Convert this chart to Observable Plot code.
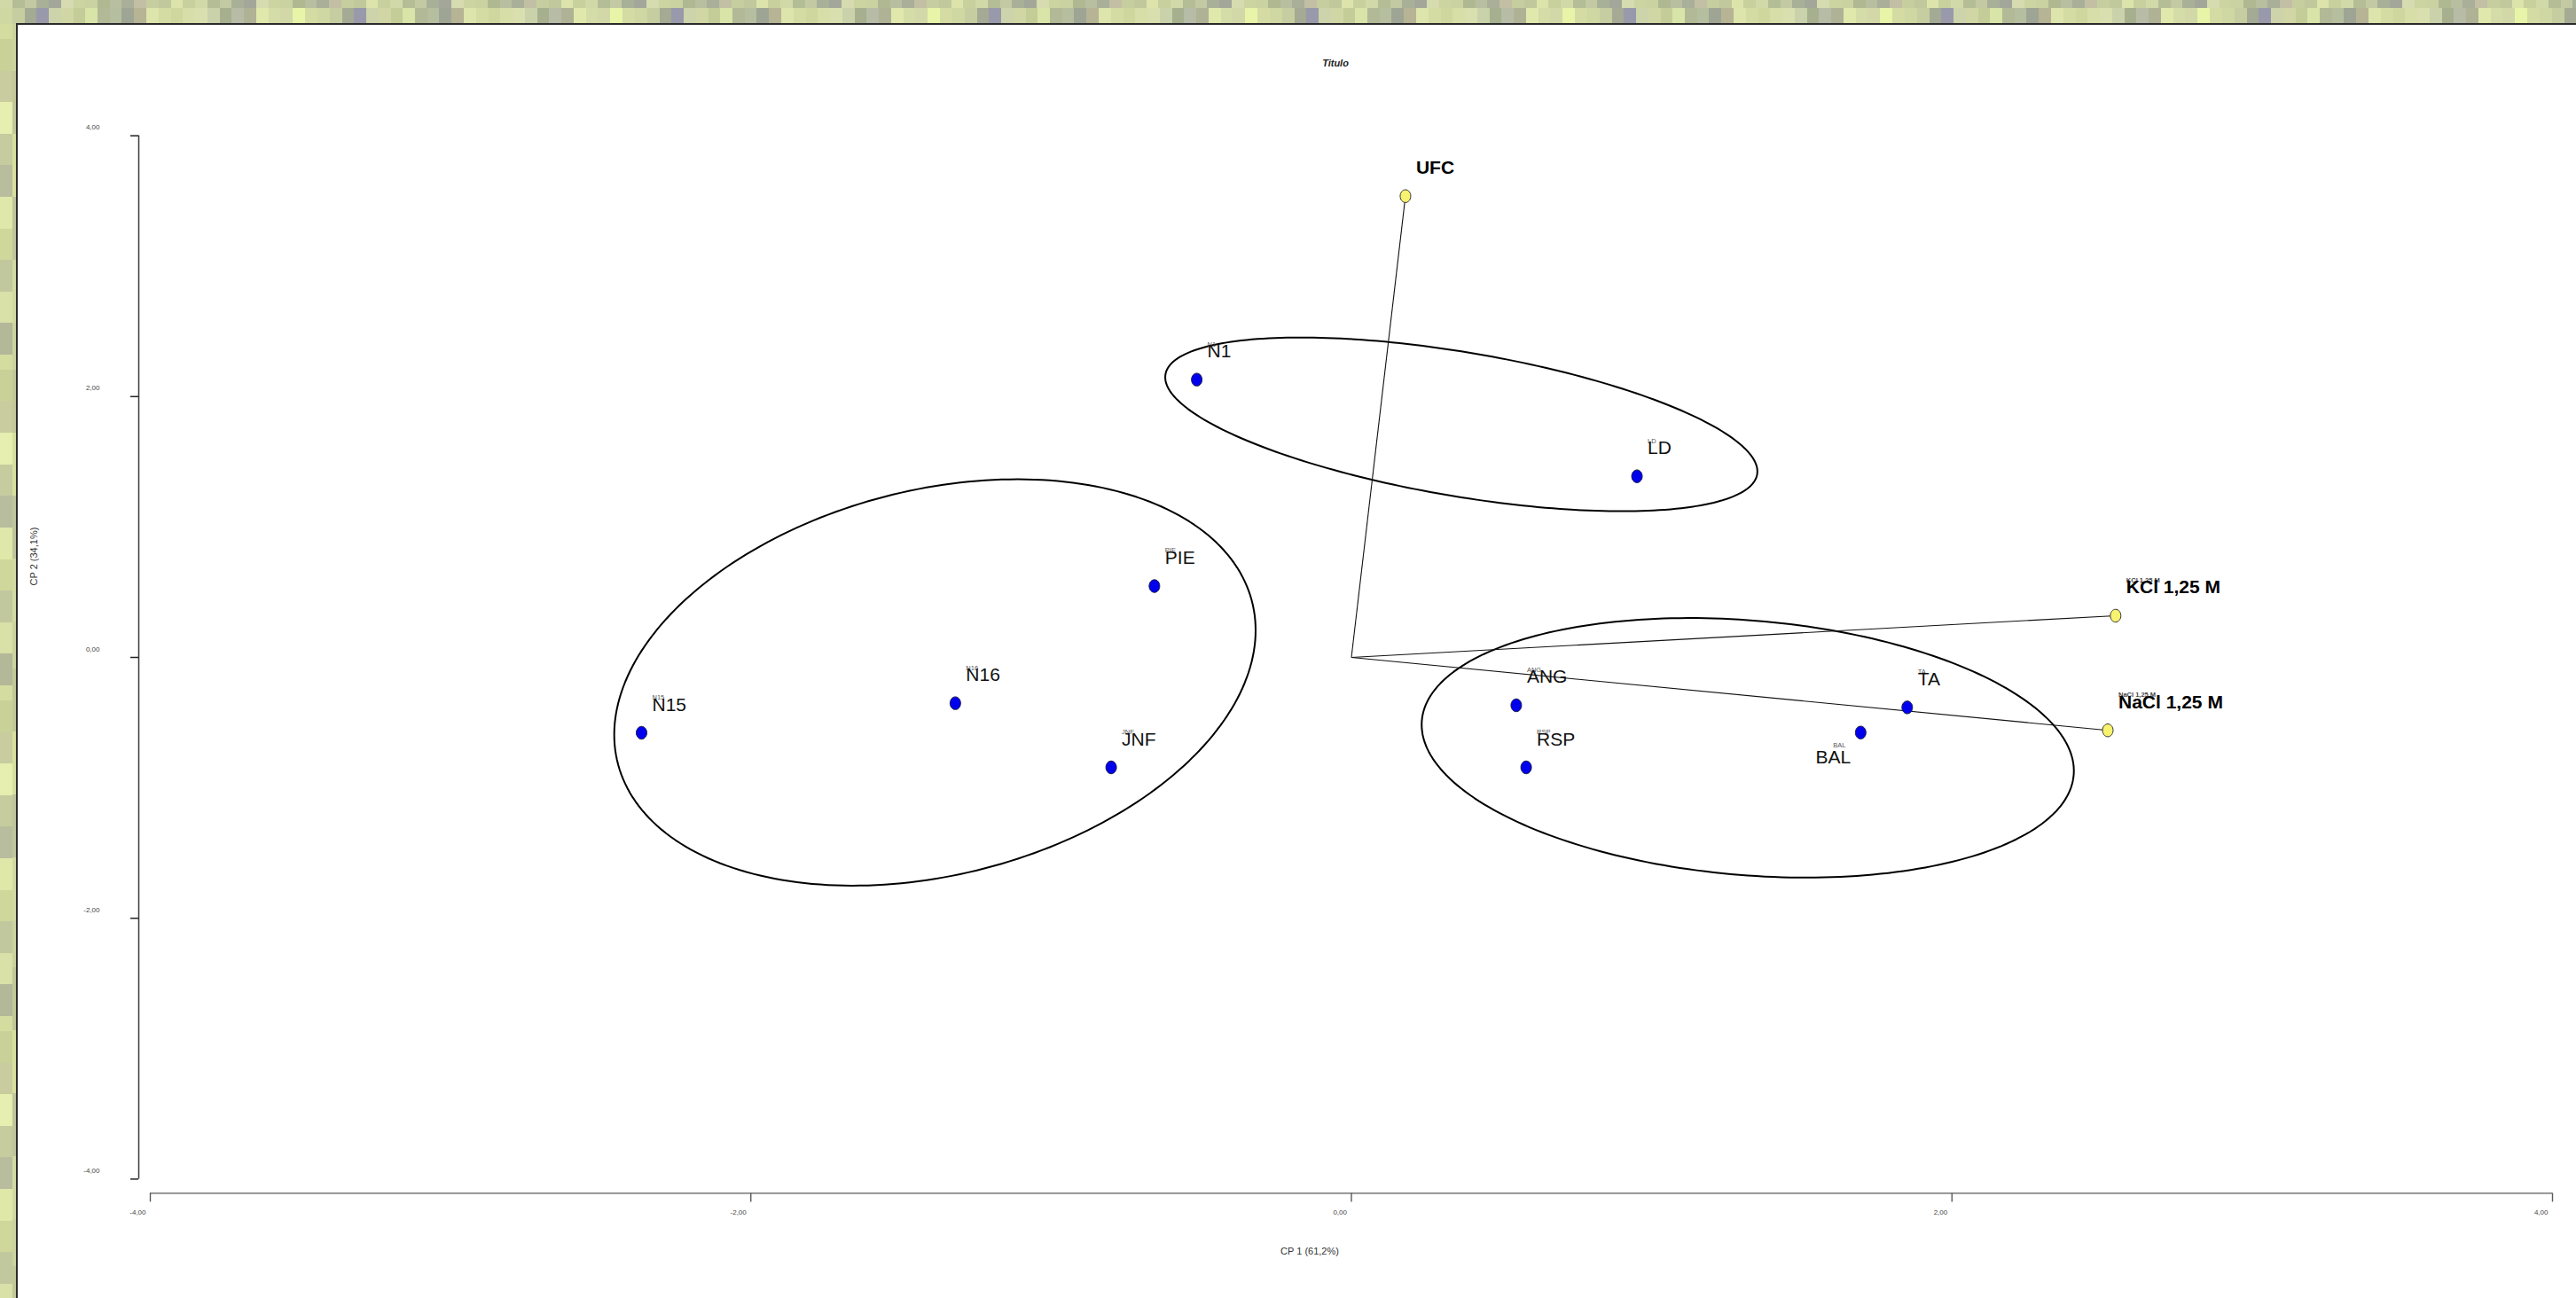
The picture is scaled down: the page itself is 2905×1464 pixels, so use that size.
<!DOCTYPE html>
<html>
<head>
<meta charset="utf-8">
<script src="https://cdn.jsdelivr.net/npm/d3@7"></script>
<script src="https://cdn.jsdelivr.net/npm/@observablehq/plot@0.6"></script>
<style>
html, body { margin: 0; padding: 0; overflow: hidden; background: #cdd5a0; }
#wrap { position: relative; width: 2905px; height: 1464px; overflow: hidden; background: #cdd5a0; }
#topA { position: absolute; left: 0; top: 0; width: 2905px; height: 9px;
  background: repeating-linear-gradient(90deg, #d2d9a9 0 14px, #b5bd97 14px 28px, #c3c9a2 28px 41px, #a9b098 41px 55px, #a3a79a 55px 69px, #d6dbb0 69px 83px, #ccd4a2 83px 96px, #c9d2a0 96px 110px, #b0b892 110px 124px, #b8bea0 124px 137px, #a9af98 137px 151px, #c2bfa4 151px 165px, #c6cea0 165px 179px, #c0c89c 179px 193px, #dce4ac 193px 206px, #c8d09e 206px 220px);
}
#topB { position: absolute; left: 0; top: 9px; width: 2905px; height: 18px;
  background: repeating-linear-gradient(90deg, #cfd7a2 0 14px, #c6cda0 14px 28px, #a4aa94 28px 41px, #9899aa 41px 55px, #cdd3aa 55px 69px, #d0d6a4 69px 83px, #c4cc98 83px 96px, #d8e4a8 96px 110px, #b1b996 110px 124px, #b6bea0 124px 137px, #9fa594 137px 151px, #b6b494 151px 165px, #dde4ac 165px 179px, #d4dca4 179px 193px, #cfd79e 193px 206px, #d7dea8 206px 220px, #d9dfae 220px 234px, #c9d2aa 234px 248px, #a6b08e 248px 261px, #b6bca6 261px 275px, #b0b296 275px 289px, #e0e8ac 289px 303px, #d4dca8 303px 316px, #d2d8a8 316px 330px, #e8f4a8 330px 344px, #d4dca4 344px 358px);
}
#leftA { position: absolute; left: 0; top: 27px; width: 14px; height: 1437px;
  background: repeating-linear-gradient(180deg, #d4dca0 0 17px, #c9d199 17px 53px, #c8cc9e 53px 88px, #e6eeb0 88px 124px, #c6cc9e 124px 159px, #b8bd9e 159px 195px, #dfe8a8 195px 231px, #cfd79a 231px 266px, #c2c89e 266px 302px, #d9e0a8 302px 337px, #b3b898 337px 373px);
}
#leftB { position: absolute; left: 14px; top: 27px; width: 5px; height: 1437px;
  background: repeating-linear-gradient(180deg, #ccd39e 0 53px, #c2c898 53px 124px, #d8df9e 124px 195px, #bfc59c 195px 266px, #d2d9a2 266px 337px);
}
#panel { position: absolute; left: 18px; top: 26px; right: -6px; bottom: -6px; background: #ffffff; border-left: 2px solid #2b2b2b; border-top: 2px solid #2b2b2b; }
#chart { position: absolute; left: 0; top: 0; }
</style>
</head>
<body>
<div id="wrap">
  <div id="topA"></div><div id="topB"></div><div id="leftA"></div><div id="leftB"></div>
  <div id="panel"></div>
  <div id="chart"></div>
</div>
<script>
// ---- Data ----
const obsNames = ["N1", "LD", "PIE", "N16", "N15", "JNF", "ANG", "RSP", "TA", "BAL"];
const obsCP1   = [-0.515, 0.951, -0.656, -1.319, -2.364, -0.800, 0.549, 0.582, 1.851, 1.696];
const obsCP2   = [ 2.130, 1.389,  0.547, -0.351, -0.578, -0.843, -0.367, -0.843, -0.383, -0.576];

const varNames = ["UFC", "KCl 1,25 M", "NaCl 1,25 M"];
const varCP1   = [0.180, 2.545, 2.519];
const varCP2   = [3.537, 0.320, -0.559];

// group ellipses: centre, half-width, half-height, vertical offset of the rightmost point
const groupNames = ["top", "left", "right"];
const ellCx   = [0.366, -1.387, 1.320];
const ellCy   = [1.787, -0.192, -0.693];
const ellW    = [0.986, 1.068, 1.086];
const ellH    = [0.666, 1.558, 0.995];
const ellTilt = [-0.361, 0.400, -0.177];

const xTicks = [-4, -2, 0, 2, 4];
const yTicks = [-4, -2, 0, 2, 4];
const tickLabels = ["-4,00", "-2,00", "0,00", "2,00", "4,00"];

const titleText = "Titulo";
const xTitle = "CP 1 (61,2%)";
const yTitle = "CP 2 (34,1%)";

// ---- Tables ----
const obs = obsNames.map((n, i) => ({name: n, x: obsCP1[i], y: obsCP2[i]}));
const vars = varNames.map((n, i) => ({name: n, x: varCP1[i], y: varCP2[i]}));
const belowLeft = new Set(["BAL"]);
const obsNE = obs.filter(d => !belowLeft.has(d.name));
const obsSW = obs.filter(d => belowLeft.has(d.name));
const varsTiny = vars.filter(d => d.name !== "UFC");
const ticksX = xTicks.map((v, i) => ({v, label: tickLabels[i]}));
const ticksY = yTicks.map((v, i) => ({v, label: tickLabels[i]}));

// outline of each ellipse from its parameters
const ellipseRows = [];
groupNames.forEach((g, i) => {
  const W = ellW[i], H = ellH[i], b = ellTilt[i];
  const d = Math.sqrt(H * H - b * b);
  const n = 240;
  for (let s = 0; s < n; s++) {
    const t = 2 * Math.PI * s / n;
    ellipseRows.push({g, x: ellCx[i] + W * Math.cos(t), y: ellCy[i] + b * Math.cos(t) + d * Math.sin(t)});
  }
});

// slightly tall oval marker
const oval = {
  draw(ctx, size) {
    const r = Math.sqrt(size / Math.PI);
    const rx = r * 0.83, ry = r, k = 0.5523;
    ctx.moveTo(rx, 0);
    ctx.bezierCurveTo(rx, k * ry, k * rx, ry, 0, ry);
    ctx.bezierCurveTo(-k * rx, ry, -rx, k * ry, -rx, 0);
    ctx.bezierCurveTo(-rx, -k * ry, -k * rx, -ry, 0, -ry);
    ctx.bezierCurveTo(k * rx, -ry, rx, -k * ry, rx, 0);
    ctx.closePath();
  }
};

const font = "'Liberation Sans', Arial, Helvetica, sans-serif";

const chart = Plot.plot({
  width: 2905,
  height: 1464,
  marginLeft: 169,
  marginRight: 27,
  marginTop: 152.6,
  marginBottom: 134.6,
  x: {domain: [-4, 4], axis: null},
  y: {domain: [-4, 4], axis: null},
  style: {background: "transparent", fontFamily: font, overflow: "visible"},
  marks: [
    // axes
    Plot.ruleX([-4], {dx: -13, stroke: "#3a3a3a", strokeWidth: 1.5}),
    Plot.ruleY(ticksY, {y: "v", x1: -4, x2: -4, dx: -13, insetLeft: -9, stroke: "#222", strokeWidth: 1.5}),
    Plot.text(ticksY, {y: "v", x: -4, text: "label", textAnchor: "end", lineAnchor: "bottom", dx: -57, dy: -7, fontSize: 8, fill: "#444"}),
    Plot.ruleY([-4], {dy: 16, stroke: "#5a5a5a", strokeWidth: 1.4}),
    Plot.ruleX(ticksX, {x: "v", y1: -4, y2: -4, dy: 16, insetBottom: -10, stroke: "#5a5a5a", strokeWidth: 1.4}),
    Plot.text(ticksX, {x: "v", y: -4, text: "label", textAnchor: "end", lineAnchor: "bottom", dx: -5, dy: 39.6, fontSize: 8, fill: "#444"}),
    // titles
    Plot.text([titleText], {text: d => d, frameAnchor: "top", dx: -18, dy: -78, lineAnchor: "bottom", fontSize: 11, fontWeight: "bold", fontStyle: "italic", fill: "#222"}),
    Plot.text([xTitle], {text: d => d, frameAnchor: "bottom", dx: -47, dy: 85, lineAnchor: "bottom", fontSize: 11, fill: "#333"}),
    Plot.text([yTitle], {text: d => d, frameAnchor: "left", dx: -127.5, dy: -81, rotate: -90, lineAnchor: "bottom", fontSize: 11, fill: "#333"}),
    // group ellipses
    Plot.line(ellipseRows, {x: "x", y: "y", z: "g", curve: "linear-closed", stroke: "#000", strokeWidth: 2}),
    // variable vectors
    Plot.link(vars, {x1: 0, y1: 0, x2: "x", y2: "y", stroke: "#111", strokeWidth: 1.1}),
    // points
    Plot.dot(obs, {x: "x", y: "y", r: 7.2, symbol: oval, fill: "#0000ee", stroke: "#1b1b40", strokeWidth: 1}),
    Plot.dot(vars, {x: "x", y: "y", r: 7.2, symbol: oval, fill: "#f8f36e", stroke: "#333", strokeWidth: 1}),
    // tiny duplicate labels
    Plot.text(obsNE, {x: "x", y: "y", text: "name", textAnchor: "start", lineAnchor: "middle", dx: 12, dy: -40, fontSize: 7.5, fill: "#555"}),
    Plot.text(obsSW, {x: "x", y: "y", text: "name", textAnchor: "start", lineAnchor: "middle", dx: -31, dy: 14.5, fontSize: 7.5, fill: "#555"}),
    Plot.text(varsTiny, {x: "x", y: "y", text: "name", textAnchor: "start", lineAnchor: "middle", dx: 12, dy: -40, fontSize: 7.5, fontWeight: "bold", fill: "#444"}),
    // main labels
    Plot.text(obsNE, {x: "x", y: "y", text: "name", textAnchor: "start", lineAnchor: "bottom", dx: 12, dy: -25, fontSize: 21, fill: "#111"}),
    Plot.text(obsSW, {x: "x", y: "y", text: "name", textAnchor: "end", lineAnchor: "bottom", dx: -11, dy: 34.5, fontSize: 21, fill: "#111"}),
    Plot.text(vars, {x: "x", y: "y", text: "name", textAnchor: "start", lineAnchor: "bottom", dx: 12, dy: -25, fontSize: 21, fontWeight: "bold", fill: "#000"})
  ]
});
document.getElementById("chart").appendChild(chart);
</script>
</body>
</html>
